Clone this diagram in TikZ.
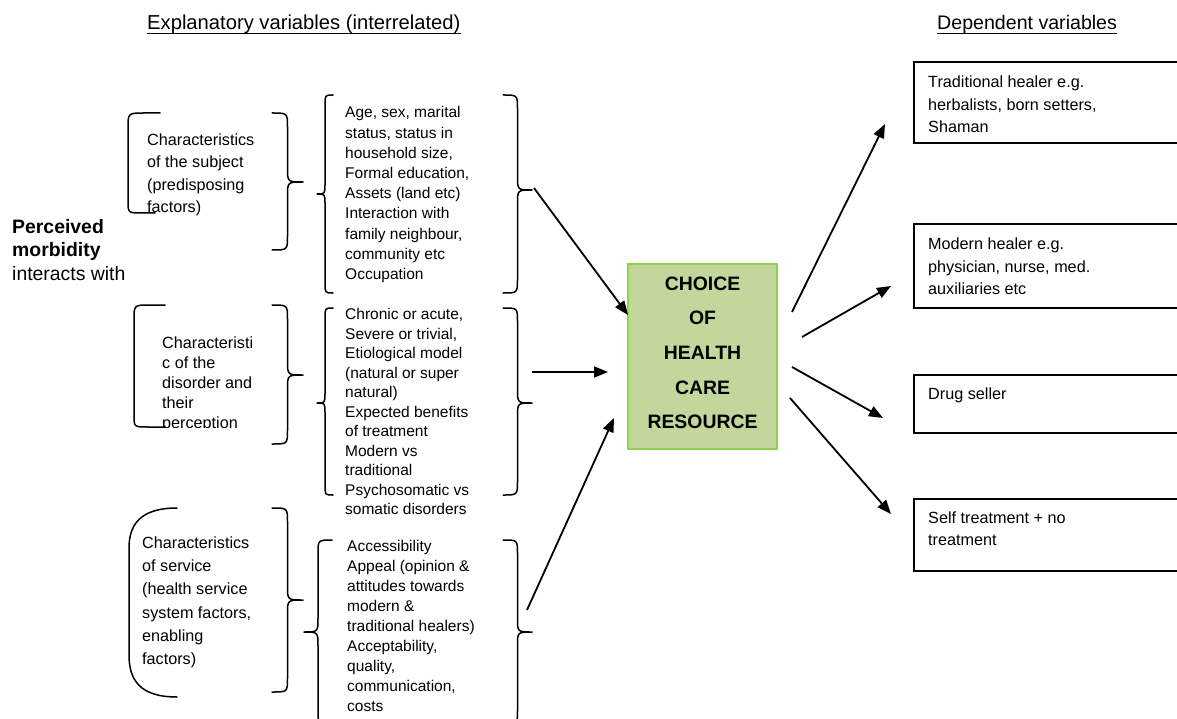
\documentclass[tikz,border=0pt]{standalone}
\usepackage{fontspec}
\setmainfont{Liberation Sans}
\usetikzlibrary{arrows.meta}
\definecolor{choicefill}{RGB}{195,214,155}
\definecolor{choiceedge}{RGB}{146,208,80}

% curly brace: #1 x of the open ends, #2 x of the tip, #3 top y, #4 tip y, #5 bottom y, #6 corner size
\newcommand\CurlyBr[6]{%
  \draw[curly] (#1,#3) .. controls ({(#1+#2)/2},#3) .. ({(#1+#2)/2},{#3+#6})
    -- ({(#1+#2)/2},{#4-#6}) .. controls ({(#1+#2)/2},#4) .. (#2,#4)
    .. controls ({(#1+#2)/2},#4) .. ({(#1+#2)/2},{#4+#6})
    -- ({(#1+#2)/2},{#5-#6}) .. controls ({(#1+#2)/2},#5) .. (#1,#5);}

\tikzset{
  curly/.style={line width=1.5pt, line cap=round, line join=round},
  heading/.style={inner sep=0, anchor=base west},
  txt/.style={align=left, inner sep=0, anchor=north west},
  depbox/.style={draw, line width=1.5pt, outer sep=0, anchor=north west, minimum width=280},
  choicebox/.style={draw=choiceedge, fill=choicefill, line width=2pt, outer sep=0,
    minimum width=149, minimum height=185},
  flow/.style={line width=1.8pt, -{Triangle[length=14pt,width=11pt]}}
}

\begin{document}
\begin{tikzpicture}[x=1pt,y=-1pt]
\useasboundingbox (0,0) rectangle (1177,719);
\clip (0,0) rectangle (1177,719);

% headings
\node[heading, font=\fontsize{20.2}{24}\selectfont] (hexpl) at (147,29.5) {Explanatory variables (interrelated)};
\node[heading, font=\fontsize{19.6}{24}\selectfont] (hdep) at (937,29.5) {Dependent variables};
\draw[line width=1.2pt] ([yshift=-4pt]hexpl.base west) -- ([yshift=-4pt]hexpl.base east);
\draw[line width=1.2pt] ([yshift=-4pt]hdep.base west) -- ([yshift=-4pt]hdep.base east);

% perceived morbidity
\node[txt, font=\fontsize{19.4}{23.5}\selectfont] (morb) at (12,216.5)
  {\strut\textbf{Perceived}\\\textbf{morbidity}\\interacts with};

% left column: groups of characteristics
\node[txt, font=\fontsize{16.2}{22.6}\selectfont] (subj) at (147,129)
  {\strut Characteristics\\of the subject\\(predisposing\\factors)};
\draw[curly] (160,113) -- (145,113) .. controls (128,113) .. (128,128) -- (128,200)
  .. controls (128,213) .. (142,213) -- (155,213);
\CurlyBr{272}{303}{113}{182}{250}{14}

\begin{scope}
  \clip (150,300) rectangle (270,427.5);
  \node[txt, font=\fontsize{16.2}{20}\selectfont] (disord) at (162,334)
    {\strut Characteristi\\c of the\\disorder and\\their\\perception};
\end{scope}
\draw[curly] (165,305) -- (150,305) .. controls (134,305) .. (134,320) -- (134,415)
  .. controls (134,427) .. (148,427) -- (165,427);
\CurlyBr{272}{303}{305}{375}{444}{14}

\node[txt, font=\fontsize{16.2}{23.2}\selectfont] (serv) at (142,532)
  {\strut Characteristics\\of service\\(health service\\system factors,\\enabling\\factors)};
\draw[curly] (177,508) .. controls (140,508) and (129,525) .. (129,548) -- (129,655)
  .. controls (129,680) and (140,697) .. (177,697);
\CurlyBr{272}{303}{508}{600}{692}{14}

% middle column: detailed variables
\node[txt, font=\fontsize{15.5}{20.2}\selectfont] (varsA) at (345,103.6)
  {\strut Age, sex, marital\\status, status in\\household size,\\Formal education,\\Assets (land etc)\\Interaction with\\family neighbour,\\community etc\\Occupation};
\CurlyBr{333}{317}{95}{194}{293}{10}
\CurlyBr{503}{532}{95}{190}{293}{14}

\node[txt, font=\fontsize{15.5}{19.5}\selectfont] (varsB) at (345,306)
  {\strut Chronic or acute,\\Severe or trivial,\\Etiological model\\(natural or super\\natural)\\Expected benefits\\of treatment\\Modern vs\\traditional\\Psychosomatic vs\\somatic disorders};
\CurlyBr{333}{317}{308}{403}{495}{10}
\CurlyBr{503}{532}{308}{403}{495}{14}

\node[txt, font=\fontsize{15.5}{20}\selectfont] (varsC) at (347,537.7)
  {\strut Accessibility\\Appeal (opinion \&\\attitudes towards\\modern \&\\traditional healers)\\Acceptability,\\quality,\\communication,\\costs};
\CurlyBr{332}{304}{540}{632}{724}{14}
\CurlyBr{503}{532}{540}{632}{724}{14}

% central box
\node[choicebox] (choice) at (702.5,356.5) {};
\node[align=center, inner sep=0, font=\fontsize{19.4}{34.7}\selectfont\bfseries] (choicelbl) at (702.5,352.5)
  {\strut CHOICE\\OF\\HEALTH\\CARE\\RESOURCE\strut};

% dependent variables
\node[depbox, minimum height=81] (trad) at (914,62) {};
\node[txt, font=\fontsize{16.2}{22.5}\selectfont] (tradlbl) at (928,72)
  {\strut Traditional healer e.g.\\herbalists, born setters,\\Shaman};
\node[depbox, minimum height=84] (modern) at (914,224) {};
\node[txt, font=\fontsize{16.2}{22.5}\selectfont] (modernlbl) at (928,234)
  {\strut Modern healer e.g.\\physician, nurse, med.\\auxiliaries etc};
\node[depbox, minimum height=58] (drug) at (914,375) {};
\node[txt, font=\fontsize{16.2}{22.5}\selectfont] (druglbl) at (928,384)
  {\strut Drug seller};
\node[depbox, minimum height=72] (self) at (914,499) {};
\node[txt, font=\fontsize{16.2}{22}\selectfont] (selflbl) at (928,507.6)
  {\strut Self treatment + no\\treatment};

% connector end points
\coordinate (fromA) at (534,188);
\coordinate (toA) at (628,315);
\coordinate (fromB) at (532,372);
\coordinate (toB) at (608,372);
\coordinate (fromC) at (527,610);
\coordinate (toC) at (614,418);
\coordinate (outT) at (792,312);
\coordinate (outM) at (802,337);
\coordinate (outD) at (792,367);
\coordinate (outS) at (790,398);
\coordinate (inT) at (885,124);
\coordinate (inM) at (891,286);
\coordinate (inD) at (883,418);
\coordinate (inS) at (891,514);

\draw[flow] (fromA) -- (toA);
\draw[flow] (fromB) -- (toB);
\draw[flow] (fromC) -- (toC);
\draw[flow] (outT) -- (inT);
\draw[flow] (outM) -- (inM);
\draw[flow] (outD) -- (inD);
\draw[flow] (outS) -- (inS);
\end{tikzpicture}
\end{document}
